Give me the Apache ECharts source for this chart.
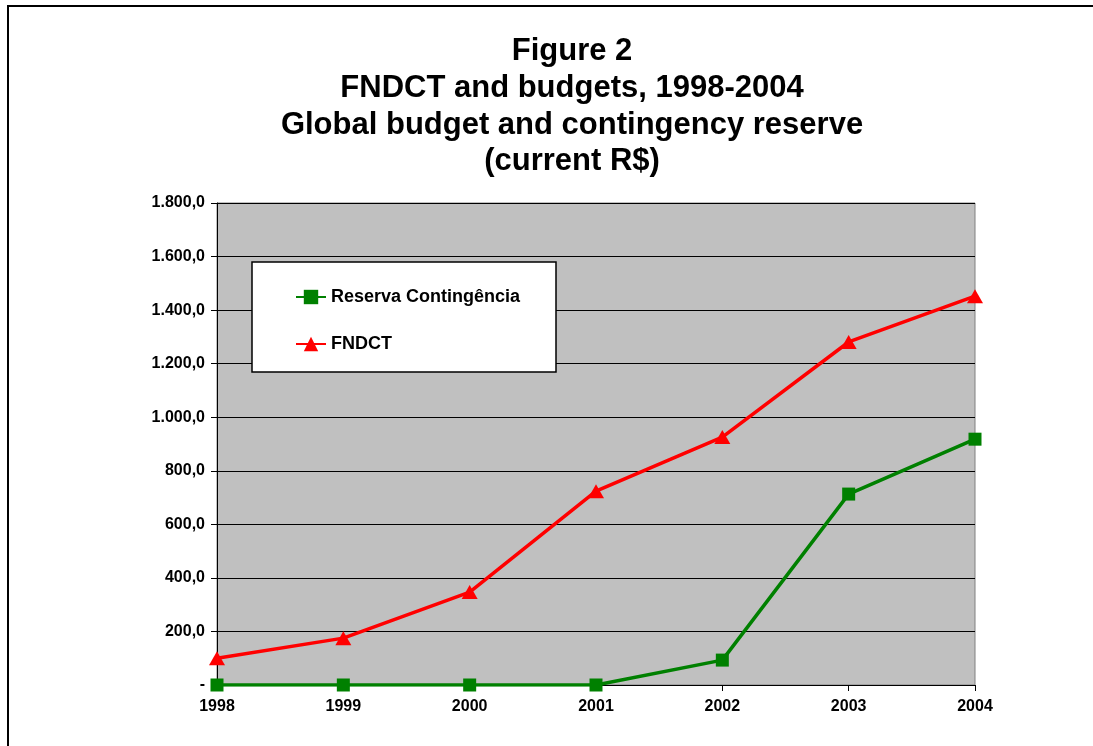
<!DOCTYPE html>
<html><head><meta charset="utf-8">
<script src="https://cdn.jsdelivr.net/npm/echarts@6/dist/echarts.min.js"></script>
<style>html,body{margin:0;padding:0;background:#fff}#c{width:1093px;height:746px}</style>
</head><body><div id="c"></div>
<script>
const years = ['1998','1999','2000','2001','2002','2003','2004'];
const reserva = [0, 0, 0, 0, 93, 713, 918];
const fndct = [100, 175, 347, 724, 926, 1281, 1452];
const titleLines = ['Figure 2','FNDCT and budgets, 1998-2004','Global budget and contingency reserve','(current R$)'];
const seriesNames = ['Reserva Contingência','FNDCT'];

const font = '"Liberation Sans", Arial, sans-serif';
function fmt(v){
  if (v === 0) return '-';
  const s = v.toFixed(1).replace('.', ',');
  const [i, d] = s.split(',');
  return i.replace(/\B(?=(\d{3})+(?!\d))/g, '.') + ',' + d;
}
const chart = echarts.init(document.getElementById('c'), null, {renderer:'canvas'});
chart.setOption({
  animation:false,
  backgroundColor:'#fff',
  title:{
    text: titleLines.join('\n'),
    left: 567, top: 28, textAlign:'center',
    textStyle:{fontFamily:font, fontSize:31, fontWeight:'bold', color:'#000', lineHeight:36.8}
  },
  graphic:[
    {type:'rect', shape:{x:8, y:6, width:1200, height:900}, style:{fill:'none', stroke:'#000', lineWidth:2}, z:100},
    {type:'rect', shape:{x:252, y:262, width:304, height:110}, style:{fill:'#fff', stroke:'#000', lineWidth:1.5}, z:10}
  ],
  legend:{
    orient:'vertical', left:290, top:283, itemGap:29, itemWidth:30, itemHeight:18, z:20,
    textStyle:{fontFamily:font, fontSize:18, fontWeight:'bold', color:'#000'},
    data: seriesNames
  },
  grid:{left:217, right:118, top:203, bottom:61, show:true, backgroundColor:'#c0c0c0', borderColor:'#808080', borderWidth:1},
  xAxis:{
    type:'category', data:years, boundaryGap:false,
    axisLine:{lineStyle:{color:'#000', width:1}},
    axisTick:{show:true, length:6, lineStyle:{color:'#000'}},
    axisLabel:{fontFamily:font, fontSize:16, fontWeight:'bold', color:'#000', margin:14},
    splitLine:{show:false}
  },
  yAxis:{
    type:'value', min:0, max:1800, interval:200,
    axisLine:{show:true, lineStyle:{color:'#000', width:1}},
    axisTick:{show:true, length:6, lineStyle:{color:'#000'}},
    axisLabel:{fontFamily:font, fontSize:16, fontWeight:'bold', color:'#000', margin:12, formatter:fmt},
    splitLine:{show:true, lineStyle:{color:'#000', width:1}}
  },
  series:[
    {name:seriesNames[0], type:'line', data:reserva, symbol:'rect', symbolSize:13,
     lineStyle:{color:'#008000', width:3.5}, itemStyle:{color:'#008000'}, z:3},
    {name:seriesNames[1], type:'line', data:fndct, symbol:'triangle', symbolSize:[16,14],
     lineStyle:{color:'#ff0000', width:3.5}, itemStyle:{color:'#ff0000'}, z:4}
  ]
});
</script></body></html>
